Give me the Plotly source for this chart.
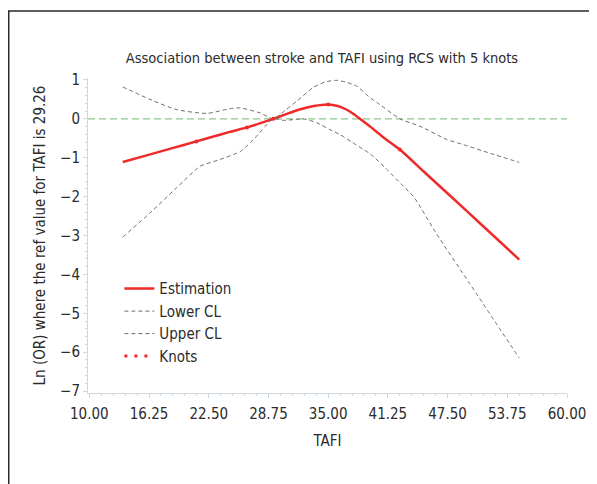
import plotly.graph_objects as go

# ---- data ----
tafi_est = [13.5, 16.0, 18.6, 21.2, 23.0, 24.7, 26.5, 28.0, 29.26, 30.6, 32.0, 33.5,
            35.0, 36.0, 36.9, 37.7, 38.5, 39.5, 40.5, 41.5, 42.5, 45.0, 48.0, 51.0, 55.0]
ln_or_est = [-1.11, -0.94, -0.76, -0.58, -0.455, -0.335, -0.22, -0.105, 0.0, 0.12, 0.24, 0.33,
             0.37, 0.33, 0.24, 0.12, -0.03, -0.22, -0.42, -0.61, -0.79, -1.355, -2.03, -2.71, -3.62]

tafi_upper = [13.5, 16.35, 19.1, 22.3, 24.7, 25.8, 27.9, 29.26, 30.5, 31.7, 33.4, 34.7,
              35.9, 36.9, 38.0, 39.4, 40.4, 42.5, 44.6, 47.4, 49.1, 52.0, 55.0]
ln_or_upper = [0.82, 0.50, 0.24, 0.14, 0.26, 0.28, 0.15, 0.0, 0.22, 0.45, 0.80, 0.95,
               0.99, 0.94, 0.84, 0.54, 0.37, 0.0, -0.19, -0.53, -0.66, -0.89, -1.12]

tafi_lower = [13.5, 16.35, 19.1, 21.6, 23.5, 25.8, 27.2, 29.26, 30.3, 31.4, 32.4, 33.8,
              35.2, 36.2, 37.5, 38.7, 39.4, 41.1, 42.9, 44.0, 46.3, 49.8, 55.0]
ln_or_lower = [-3.04, -2.42, -1.78, -1.22, -1.06, -0.84, -0.53, 0.0, -0.04, -0.02, 0.0, -0.10,
               -0.28, -0.40, -0.60, -0.79, -0.90, -1.29, -1.74, -2.02, -2.94, -4.23, -6.15]

knot_tafi = [21.2, 26.5, 29.26, 35.0, 42.5]
knot_ln_or = [-0.58, -0.22, 0.0, 0.37, -0.79]

ref_ln_or = 0.0
x_ticks = [10.00, 16.25, 22.50, 28.75, 35.00, 41.25, 47.50, 53.75, 60.00]
y_ticks = [-7, -6, -5, -4, -3, -2, -1, 0, 1]

FONT = "DejaVu Sans Condensed, Liberation Sans Narrow, sans-serif"
TXT = "#2b2b2b"
AX = "#cfd9df"
RED = "#ee2a2a"
GRAY = "#6e6e6e"

# the page body has an 8px margin, so the figure is sized to fit inside the window
W, H = 589, 476
ML, MT, PW, PH = 80, 70, 479, 315

fig = go.Figure()

fig.add_trace(go.Scatter(x=tafi_est, y=ln_or_est, mode="lines", name="Estimation",
                         line=dict(color=RED, width=2.5, shape="spline", smoothing=0.6)))
fig.add_trace(go.Scatter(x=tafi_lower, y=ln_or_lower, mode="lines", name="Lower CL",
                         line=dict(color=GRAY, width=1, dash="4px,3px", shape="spline", smoothing=0.6)))
fig.add_trace(go.Scatter(x=tafi_upper, y=ln_or_upper, mode="lines", name="Upper CL",
                         line=dict(color=GRAY, width=1, dash="4px,3px", shape="spline", smoothing=0.6)))
fig.add_trace(go.Scatter(x=knot_tafi, y=knot_ln_or, mode="markers", name="Knots",
                         marker=dict(color=RED, size=4), showlegend=False))
# legend entry for knots drawn as a dotted sample
fig.add_trace(go.Scatter(x=[None], y=[None], mode="lines", name="Knots",
                         line=dict(color=RED, width=3, dash="3px,7px")))

fig.add_hline(y=ref_ln_or, line=dict(color="#8dc88d", width=1.2, dash="7px,4px"), layer="below")

# outer frame (cut off at right and bottom in the reference)
fig.add_shape(type="rect", xref="paper", yref="paper",
              x0=(0.75 - ML) / PW, x1=1.3, y0=-0.6, y1=1 + (MT - 3) / PH,
              line=dict(color="#2a2a2a", width=1.5), fillcolor="rgba(0,0,0,0)")

fig.update_layout(
    width=W, height=H,
    margin=dict(l=ML, r=W - ML - PW, t=MT, b=H - MT - PH, autoexpand=False),
    paper_bgcolor="white", plot_bgcolor="white",
    font=dict(family=FONT, size=15, color=TXT),
    title=dict(text="Association between stroke and TAFI using RCS with 5 knots",
               x=(322 - 8) / W, xanchor="center", y=1 - (58 - 8) / H, yanchor="middle",
               font=dict(family=FONT, size=14.5, color=TXT)),
    showlegend=True,
    legend=dict(x=0.0655, y=0.383, xanchor="left", yanchor="top", bgcolor="rgba(0,0,0,0)",
                font=dict(family=FONT, size=15, color=TXT), tracegroupgap=0),
    xaxis=dict(range=[9.86, 60.0], tickvals=x_ticks, tickformat=".2f", automargin=False,
               showgrid=False, zeroline=False, showline=True, linecolor=AX, linewidth=1,
               ticks="outside", ticklen=4, tickcolor=AX, ticklabelstandoff=3,
               minor=dict(dtick=1.25, tick0=10, ticks="outside", ticklen=2, tickcolor=AX),
               tickfont=dict(family=FONT, size=15, color=TXT),
               title=dict(text="TAFI", font=dict(family=FONT, size=15, color=TXT), standoff=13)),
    yaxis=dict(range=[-7.05, 1.05], tickvals=y_ticks, automargin=False,
               showgrid=False, zeroline=False, showline=True, linecolor=AX, linewidth=1,
               ticks="outside", ticklen=4, tickcolor=AX,
               minor=dict(dtick=0.2, tick0=0, ticks="outside", ticklen=2, tickcolor=AX),
               tickfont=dict(family=FONT, size=15, color=TXT),
               title=dict(text="Ln (OR) where the ref value for TAFI is 29.26",
                          font=dict(family=FONT, size=15, color=TXT), standoff=10)),
)

fig.write_html("out.html")
